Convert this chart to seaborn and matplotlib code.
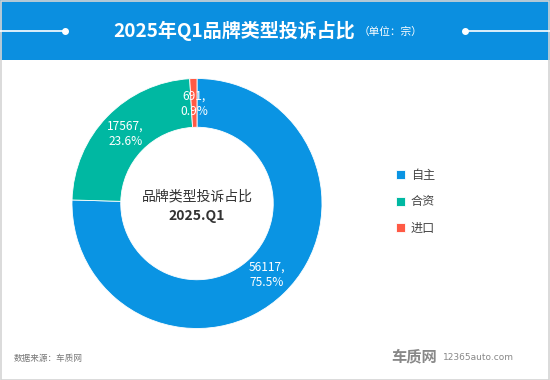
import matplotlib
matplotlib.use("Agg")
import matplotlib.pyplot as plt
import seaborn as sns
import numpy as np
from matplotlib.patches import Rectangle
from matplotlib.lines import Line2D

categories = ["自主", "合资", "进口"]
values = [56117, 17567, 691]
percents = ["75.5%", "23.6%", "0.9%"]
colors = ["#0a94e3", "#00b8a2", "#ff5a45"]
title = "2025年Q1品牌类型投诉占比"
unit = "（单位：宗）"
center_lines = ["品牌类型投诉占比", "2025.Q1"]
source = "数据来源：车质网"

sns.set_theme(style="white")
plt.rcParams['font.family'] = ['Noto Sans CJK SC', 'DejaVu Sans']

W, H = 550, 380
fig = plt.figure(figsize=(W / 100, H / 100), dpi=100)
fig.patch.set_facecolor("white")

def fx(px):
    return px / W

def fy(py):
    return 1 - py / H

# header band
fig.patches.append(Rectangle((0, fy(60)), 1, 60 / H, transform=fig.transFigure,
                             facecolor="#0b8fe0", edgecolor="none", zorder=0))
# border
fig.patches.append(Rectangle((0.5 / W, 0.5 / H), (W - 1.5) / W, (H - 1.5) / H,
                             transform=fig.transFigure, facecolor="none",
                             edgecolor="#d4d4d4", linewidth=1.2, zorder=1))
# header decorative lines
for x0, x1, xd in [(0, 65, 65), (465, 550, 465)]:
    fig.add_artist(Line2D([fx(x0), fx(x1)], [fy(30.5), fy(30.5)], transform=fig.transFigure,
                          color="white", linewidth=1.2))
    fig.add_artist(Line2D([fx(xd)], [fy(30.5)], transform=fig.transFigure, marker="o",
                          markersize=4, color="white"))

fig.text(fx(234), fy(31), title, ha="center", va="center", color="white",
         fontsize=13.7, fontweight="bold")
fig.text(fx(359), fy(32), unit, ha="left", va="center", color="white", fontsize=7.7)

# donut
ax = fig.add_axes([fx(72), fy(328.5), 250 / W, 250 / H])
ax.set_aspect("equal")
wedges, _ = ax.pie(values, colors=colors, startangle=90, counterclock=False,
                   radius=1.0, wedgeprops=dict(width=0.39, edgecolor="white", linewidth=0.6))
total = sum(values)
cum = 0
for v, p in zip(values, percents):
    mid = 90 - (cum + v / 2) / total * 360
    cum += v
    r = 0.8
    x, y = r * np.cos(np.radians(mid)), r * np.sin(np.radians(mid))
    ax.text(x, y, f"{v},\n{p}", ha="center", va="center", color="white",
            fontsize=8.6, linespacing=1.25)
ax.text(0, 0.06, center_lines[0], ha="center", va="center", color="#333333", fontsize=10)
ax.text(0, -0.1, center_lines[1], ha="center", va="center", color="#333333", fontsize=10,
        fontweight="bold")
ax.set_xlim(-1, 1)
ax.set_ylim(-1, 1)
ax.axis("off")

leg = fig.legend(wedges, categories, loc="upper left", bbox_to_anchor=(fx(391), fy(164)),
                 frameon=False, fontsize=8.7, handlelength=0.75, handleheight=0.75,
                 handletextpad=0.5, labelspacing=1.12, borderaxespad=0)
for t in leg.get_texts():
    t.set_color("#444444")

fig.text(fx(14), fy(358), source, ha="left", va="center", color="#777777", fontsize=6.2)
fig.text(fx(414), fy(356), "车质网", ha="center", va="center", color="#888888",
         fontsize=11, fontweight="bold")
fig.text(fx(443), fy(357), "12365auto.com", ha="left", va="center", color="#888888",
         fontsize=6.5, family=["DejaVu Sans"])

fig.savefig("out.png", dpi=100)
